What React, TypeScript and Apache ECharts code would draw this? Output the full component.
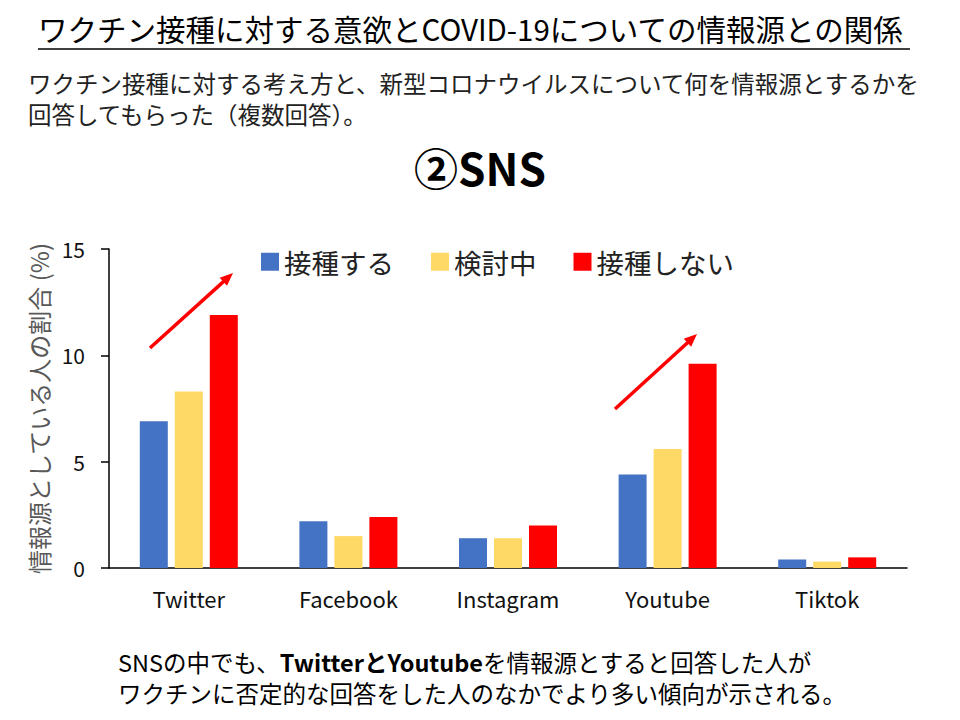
import React, { useEffect, useRef } from "react";
import * as echarts from "echarts";

const categories = ["Twitter", "Facebook", "Instagram", "Youtube", "Tiktok"];
const seriesNames = ["接種する", "検討中", "接種しない"];
const willVaccinate = [6.9, 2.2, 1.4, 4.4, 0.4];
const considering = [8.3, 1.5, 1.4, 5.6, 0.3];
const notVaccinate = [11.9, 2.4, 2.0, 9.6, 0.5];
const yTicks = { min: 0, max: 15, interval: 5 };
const colors = ["#4472C4", "#FFD966", "#FF0000"];

const FONT = '"Noto Sans CJK JP", "Noto Sans", sans-serif';

function arrow(x1: number, y1: number, x2: number, y2: number) {
  const dx = x2 - x1;
  const dy = y2 - y1;
  const len = Math.sqrt(dx * dx + dy * dy);
  const ux = dx / len;
  const uy = dy / len;
  const headLen = 13;
  const headHalf = 5.5;
  const bx = x2 - ux * headLen;
  const by = y2 - uy * headLen;
  const px = -uy;
  const py = ux;
  return [
    {
      type: "line",
      shape: { x1, y1, x2: bx + ux * 2, y2: by + uy * 2 },
      style: { stroke: "#FF0000", lineWidth: 3.5 },
      silent: true,
    },
    {
      type: "polygon",
      shape: {
        points: [
          [x2, y2],
          [bx + px * headHalf, by + py * headHalf],
          [bx - px * headHalf, by - py * headHalf],
        ],
      },
      style: { fill: "#FF0000" },
      silent: true,
    },
  ];
}

export default function App() {
  const ref = useRef<HTMLDivElement>(null);
  useEffect(() => {
    document.body.style.margin = "0";
    if (!ref.current) return;
    const chart = echarts.init(ref.current, undefined, { renderer: "svg" });
    const seriesData = [willVaccinate, considering, notVaccinate];
    chart.setOption({
      animation: false,
      backgroundColor: "#ffffff",
      textStyle: { fontFamily: FONT },
      grid: { left: 109, right: 53, top: 249, bottom: 152, containLabel: false },
      legend: {
        data: seriesNames,
        left: 261,
        top: 248,
        padding: 0,
        icon: "rect",
        itemWidth: 18,
        itemHeight: 18,
        itemGap: 37,
        textStyle: { fontSize: 27.5, color: "#222", fontFamily: FONT },
      },
      xAxis: {
        type: "category",
        data: categories,
        axisLine: { show: true, lineStyle: { color: "#000", width: 1.5 } },
        axisTick: { show: false },
        axisLabel: { fontSize: 22, color: "#111", margin: 19, fontFamily: FONT },
      },
      yAxis: {
        type: "value",
        min: yTicks.min,
        max: yTicks.max,
        interval: yTicks.interval,
        name: "情報源としている人の割合 (%)",
        nameLocation: "middle",
        nameGap: 56,
        nameRotate: 90,
        nameTextStyle: { fontSize: 24, color: "#595959", fontFamily: FONT },
        axisLine: { show: true, lineStyle: { color: "#000", width: 1.5 } },
        axisTick: { show: true, length: 8, lineStyle: { color: "#000", width: 1.5 } },
        axisLabel: { fontSize: 21, color: "#111", margin: 24, fontFamily: FONT },
        splitLine: { show: false },
      },
      series: seriesNames.map((name, i) => ({
        name,
        type: "bar",
        data: seriesData[i],
        barWidth: 28,
        barGap: "25%",
        itemStyle: { color: colors[i] },
      })),
      graphic: [
        {
          type: "text",
          left: 38,
          top: 13,
          style: {
            text: "ワクチン接種に対する意欲とCOVID-19についての情報源との関係",
            fontSize: 29.5,
            fill: "#000",
            fontFamily: FONT,
          },
        },
        {
          type: "line",
          shape: { x1: 38, y1: 49, x2: 910, y2: 49 },
          style: { stroke: "#000", lineWidth: 1.5 },
        },
        {
          type: "text",
          left: 28,
          top: 69,
          style: {
            text: "ワクチン接種に対する考え方と、新型コロナウイルスについて何を情報源とするかを",
            fontSize: 23.5,
            lineHeight: 27,
            fill: "#222",
            fontFamily: FONT,
          },
        },
        {
          type: "text",
          left: 28,
          top: 100,
          style: {
            text: "回答してもらった（複数回答）。",
            fontSize: 23.5,
            lineHeight: 27,
            fill: "#222",
            fontFamily: FONT,
          },
        },
        {
          type: "text",
          left: "center",
          top: 145,
          style: {
            text: "②SNS",
            fontSize: 44,
            fontWeight: "bold",
            fill: "#000",
            fontFamily: FONT,
          },
        },
        {
          type: "text",
          left: 118,
          top: 648,
          style: {
            text: "SNSの中でも、{b|TwitterとYoutube}を情報源とすると回答した人が",
            fontSize: 23.5,
            lineHeight: 27,
            fill: "#000",
            fontFamily: FONT,
            rich: {
              b: { fontSize: 23.5, lineHeight: 27, fontWeight: "bold", fill: "#000", fontFamily: FONT },
            },
          },
        },
        {
          type: "text",
          left: 118,
          top: 679,
          style: {
            text: "ワクチンに否定的な回答をした人のなかでより多い傾向が示される。",
            fontSize: 23.5,
            lineHeight: 27,
            fill: "#000",
            fontFamily: FONT,
          },
        },
        ...arrow(150, 348, 233, 273),
        ...arrow(615, 409, 697, 334),
      ],
    });
    return () => chart.dispose();
  }, []);
  return <div ref={ref} style={{ width: 960, height: 720 }} />;
}
